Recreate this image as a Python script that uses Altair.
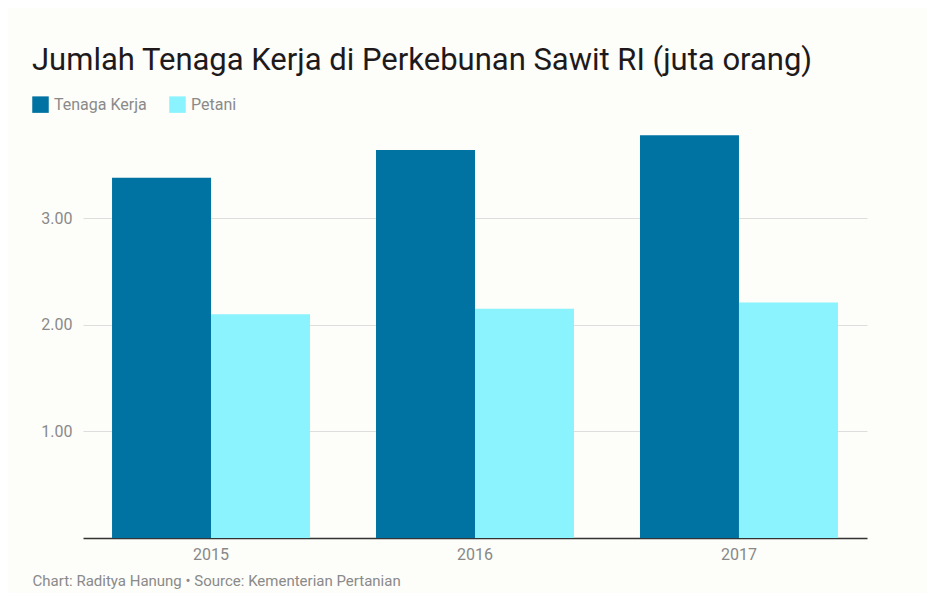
import altair as alt
import pandas as pd

years = ["2015", "2016", "2017"]
tenaga_kerja = [3.38, 3.64, 3.78]
petani = [2.10, 2.15, 2.21]
series = ["Tenaga Kerja", "Petani"]
colors = ["#0073a2", "#8af3fe"]

rows = []
for i, y in enumerate(years):
    rows.append({"Tahun": y, "Seri": series[0], "Nilai": tenaga_kerja[i]})
    rows.append({"Tahun": y, "Seri": series[1], "Nilai": petani[i]})
df = pd.DataFrame(rows)

chart = alt.Chart(df).mark_bar().encode(
    x=alt.X("Tahun:N",
            scale=alt.Scale(paddingInner=0.25, paddingOuter=0.11),
            axis=alt.Axis(title="Chart: Raditya Hanung • Source: Kementerian Pertanian",
                          titleAnchor="start", titleAlign="left", titleX=-51, titleY=47,
                          titleBaseline="alphabetic", titleFont="Roboto", titleFontSize=15,
                          titleFontWeight="normal", titleColor="#8a8a8a",
                          labelAngle=0, labelFont="Roboto", labelFontSize=16,
                          labelColor="#888888", labelPadding=8, ticks=False,
                          domainColor="#333333", domainWidth=1.5)),
    xOffset=alt.XOffset("Seri:N", sort=series, scale=alt.Scale(paddingInner=0, paddingOuter=0)),
    y=alt.Y("Nilai:Q",
            scale=alt.Scale(domain=[0, 3.8], nice=False),
            axis=alt.Axis(title=None, values=[1, 2, 3], format=".2f",
                          labelFont="Roboto", labelFontSize=16, labelColor="#8a8a8a",
                          labelPadding=11, ticks=False, domain=False,
                          gridColor="#dedede", gridWidth=1)),
    color=alt.Color("Seri:N", sort=series,
                    scale=alt.Scale(domain=series, range=colors),
                    legend=alt.Legend(title=None, orient="none", legendX=-51, legendY=-37,
                                      direction="horizontal", symbolType="square",
                                      symbolSize=272, symbolStrokeWidth=0, symbolOpacity=1,
                                      labelFont="Roboto", labelFontSize=16,
                                      labelColor="#8a8a8a", columnPadding=22,
                                      labelOffset=5)),
).properties(
    width=784,
    height=405,
    autosize=alt.AutoSizeParams(type="none"),
    padding={"left": 75, "top": 125, "right": 60, "bottom": 55},
    background="#fdfdf9",
    title=alt.TitleParams(
        "Jumlah Tenaga Kerja di Perkebunan Sawit RI (juta orang)",
        anchor="start", frame="group", dx=-51, dy=5, offset=0, baseline="alphabetic",
        font="Roboto", fontSize=31, fontWeight="normal", color="#1e1a1b"),
).configure_view(stroke=None).configure_axisY(grid=True).configure_axisX(grid=False)

chart.save("out.html", embed_options={"renderer": "svg", "actions": False})
